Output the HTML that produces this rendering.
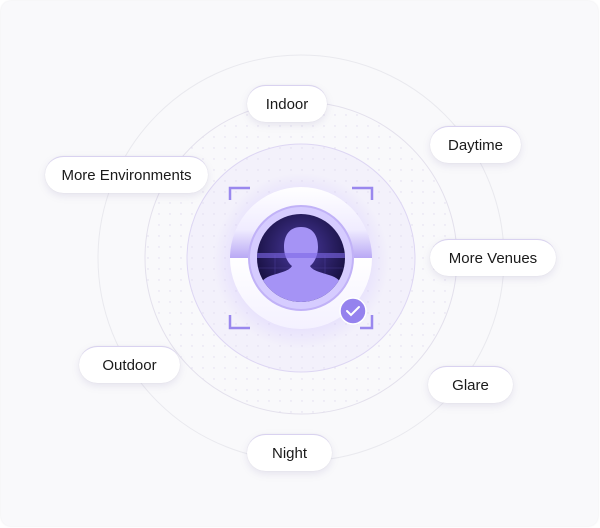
<!DOCTYPE html>
<html><head><style>
html,body{margin:0;padding:0;}
body{width:600px;height:528px;background:#fff;position:relative;overflow:hidden;font-family:"Liberation Sans",sans-serif;}
.card{position:absolute;left:1px;top:1px;width:597px;height:525px;border-radius:10px;background:#f9f9fb;box-shadow:0 0 2px #e6e6ea;}
.pill{position:absolute;height:37px;border-radius:19px;background:#fff;box-shadow:0 3px 8px rgba(120,110,170,0.15),0 0 1px rgba(0,0,0,0.1);font-size:15px;color:#1a1a1a;display:flex;align-items:center;justify-content:center;border-top:1px solid #d9d2f0;box-sizing:border-box;}
</style></head><body>
<div class="card"></div>
<svg width="600" height="528" style="position:absolute;left:0;top:0">
<defs>
<pattern id="dots" width="11" height="11" patternUnits="userSpaceOnUse"><circle cx="5" cy="5" r="0.7" fill="#e0dbee"/></pattern>
<radialGradient id="glow" cx="50%" cy="50%" r="50%"><stop offset="0.5" stop-color="#c8b8ff" stop-opacity="0.55"/><stop offset="1" stop-color="#c8b8ff" stop-opacity="0"/></radialGradient>
<linearGradient id="ring" x1="0" y1="0" x2="0" y2="1"><stop offset="0" stop-color="#fff"/><stop offset="0.3" stop-color="#f0ecff"/><stop offset="0.5" stop-color="#b9a9f5"/><stop offset="0.501" stop-color="#fff"/><stop offset="1" stop-color="#f4f1ff"/></linearGradient>
<radialGradient id="dark" cx="50%" cy="40%" r="60%"><stop offset="0" stop-color="#4a3aa0"/><stop offset="1" stop-color="#140d3a"/></radialGradient>
<clipPath id="dc"><circle cx="301" cy="258" r="44"/></clipPath>
</defs>
<circle cx="301" cy="258" r="203" fill="none" stroke="#e9e9ee"/>
<circle cx="301" cy="258" r="156" fill="url(#dots)" stroke="#e3e0ec"/>
<circle cx="301" cy="258" r="114" fill="#f3f1fb" stroke="#ddd6f3"/>
<circle cx="301" cy="258" r="114" fill="url(#dots)"/>
<circle cx="301" cy="261" r="88" fill="url(#glow)"/>
<g stroke="#9a88ee" stroke-width="2.5" fill="none">
<path d="M230 200 V188 H250"/><path d="M352 188 H372 V200"/><path d="M230 315 V328 H250"/><path d="M372 315 V328 H360"/>
</g>
<circle cx="301" cy="258" r="71" fill="url(#ring)"/>
<circle cx="301" cy="258" r="52" fill="#d6ccff" stroke="#c1b2f7" stroke-width="2"/>
<circle cx="301" cy="258" r="44" fill="url(#dark)"/>
<g clip-path="url(#dc)">
<g stroke="#5a4ab0" stroke-width="0.6" opacity="0.6">
<line x1="256" y1="268" x2="346" y2="268"/><line x1="256" y1="283" x2="346" y2="283"/><line x1="275" y1="255" x2="275" y2="303"/><line x1="325" y1="255" x2="325" y2="303"/>
</g>
<path d="M301 227 c-12 0 -17 9 -17 20 c0 9 4 16 8 19 c-3 5 -10 6 -22 10 c-10 4 -14 12 -14 27 h90 c0 -15 -4 -23 -14 -27 c-12 -4 -19 -5 -22 -10 c4 -3 8 -10 8 -19 c0 -11 -5 -20 -17 -20z" fill="#a593f5"/>
<rect x="256" y="253" width="90" height="5" fill="#7d68e6" opacity="0.6"/>
</g>
<circle cx="353" cy="311" r="13" fill="#9582ee" stroke="#fff" stroke-width="1.5"/>
<path d="M347 311 l4 4 l8 -8" stroke="#fff" stroke-width="2" fill="none" stroke-linecap="round"/>
</svg>
<div class="pill" style="left:247px;top:85px;width:80px">Indoor</div>
<div class="pill" style="left:430px;top:126px;width:91px">Daytime</div>
<div class="pill" style="left:45px;top:156px;width:163px">More Environments</div>
<div class="pill" style="left:430px;top:239px;width:126px">More Venues</div>
<div class="pill" style="left:79px;top:346px;width:101px">Outdoor</div>
<div class="pill" style="left:428px;top:366px;width:85px">Glare</div>
<div class="pill" style="left:247px;top:434px;width:85px">Night</div>
</body></html>
